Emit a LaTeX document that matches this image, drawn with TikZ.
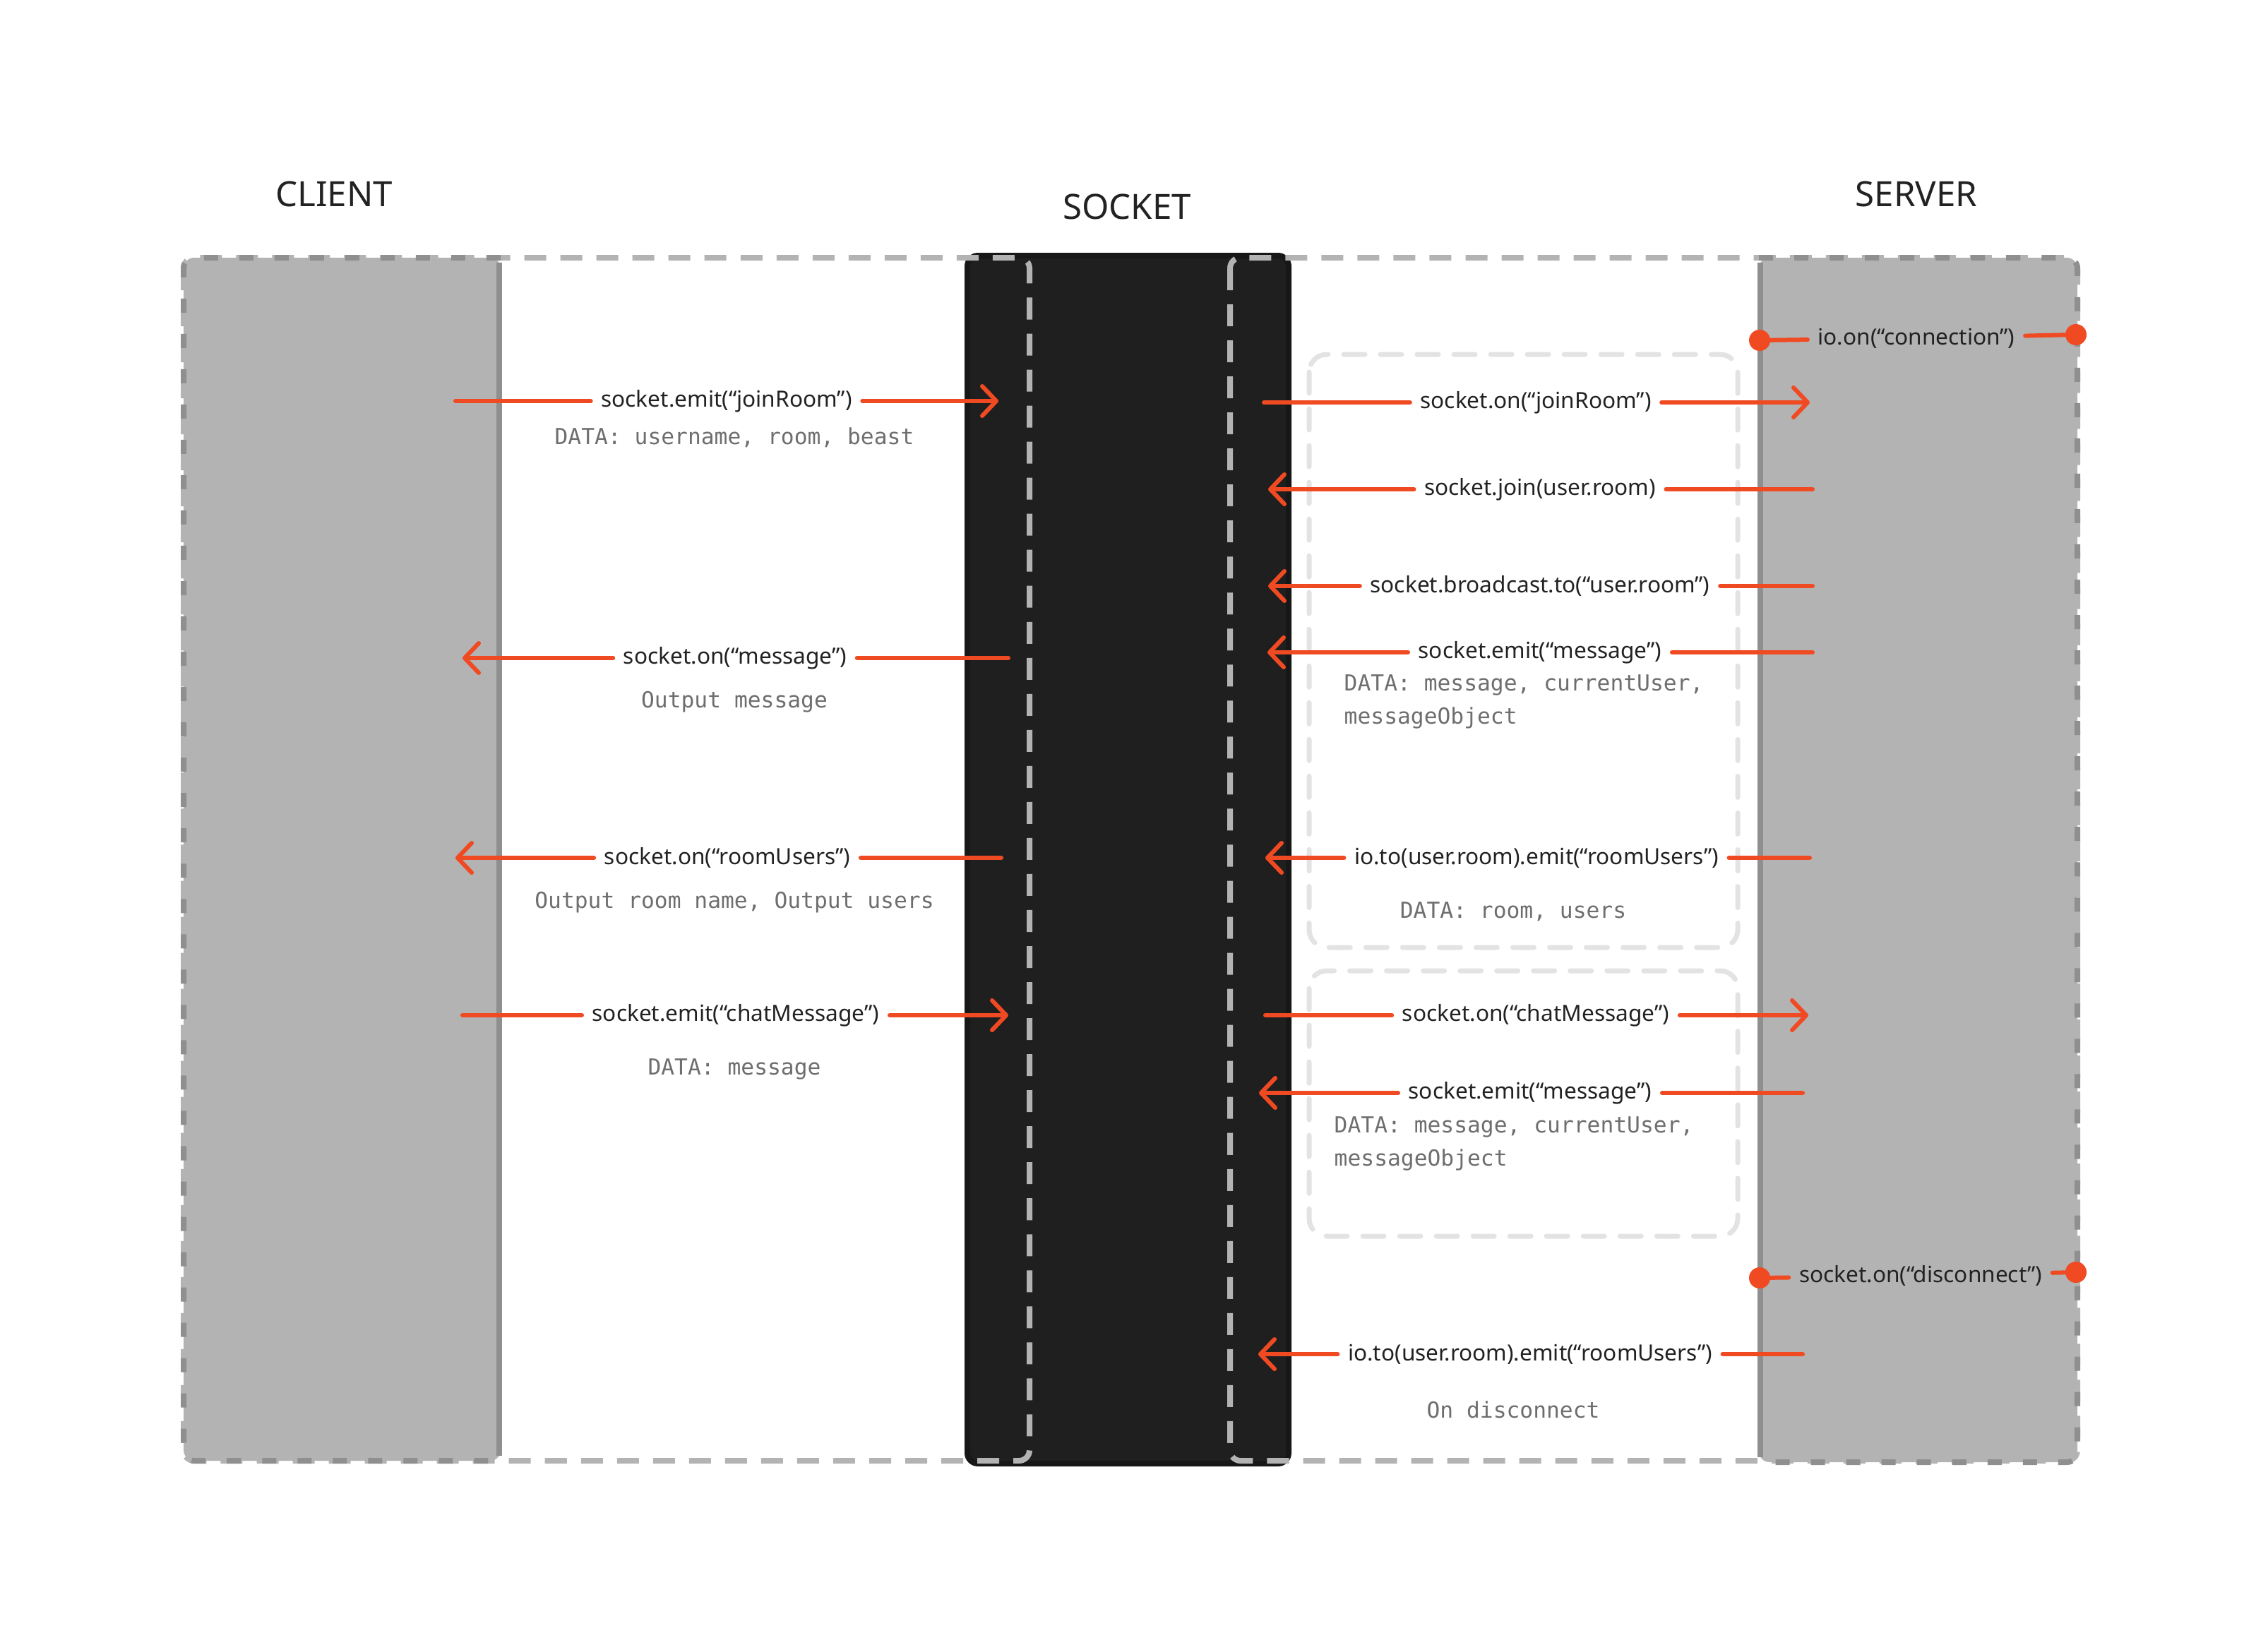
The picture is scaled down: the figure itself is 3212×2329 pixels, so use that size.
\documentclass[tikz,border=0pt]{standalone}
\usepackage{fontspec}
\setmainfont{Noto Sans}
\setmonofont{DejaVu Sans Mono}
\usetikzlibrary{arrows.meta}
\definecolor{arrowred}{HTML}{F04A23}
\definecolor{boxgray}{HTML}{B3B3B3}
\definecolor{edgegray}{HTML}{8F8F8F}
\definecolor{sockblack}{HTML}{1F1F1F}
\definecolor{sockedge}{HTML}{171717}
\definecolor{groupgray}{HTML}{E3E3E3}
\definecolor{datagray}{HTML}{6E6E6E}
\definecolor{inkblack}{HTML}{222222}
\begin{document}
\begin{tikzpicture}[x=0.01cm, y=-0.01cm,
  lbl/.style={font=\fontsize{9}{11}\selectfont, text=inkblack, inner xsep=0.14cm, inner ysep=0.05cm},
  data/.style={font=\fontsize{8.9}{13.4}\selectfont\ttfamily, text=datagray, inner sep=0},
  title/.style={font=\fontsize{14}{16}\selectfont, text=inkblack},
  msg/.style={draw=arrowred, line width=0.06cm, line cap=round, >={Straight Barb[length=0.2cm,width=0.42cm,round]}},
  dot/.style={circle, fill=arrowred, minimum size=0.3cm, inner sep=0},
  frame/.style={draw=boxgray, line width=0.08cm, dash pattern=on 0.31cm off 0.2cm, rounded corners=0.15cm},
  lane/.style={fill=boxgray, rounded corners=0.15cm},
  laneedge/.style={draw=edgegray, line width=0.08cm, dash pattern=on 0.2cm off 0.3cm, rounded corners=0.15cm},
  group/.style={draw=groupgray, line width=0.07cm, line cap=round, dash pattern=on 0.3cm off 0.22cm, rounded corners=0.25cm}]
\useasboundingbox (0,0) rectangle (3212,2329);

% lanes
\draw[fill=sockblack, draw=sockedge, line width=0.08cm, rounded corners=0.15cm] (1370,362) rectangle (1825,2073);
\draw[frame] (260,365) rectangle (1458,2069);
\draw[frame] (1742,365) rectangle (2942,2069);
\fill[lane] (260,365) rectangle (709,2069);
\draw[laneedge] (709,365) -- (260,365) -- (260,2069) -- (709,2069);
\draw[edgegray, line width=0.08cm] (707,372) -- (707,2062);
\fill[lane] (2491,365) rectangle (2942,2071);
\draw[laneedge] (2491,365) -- (2942,365) -- (2942,2071) -- (2491,2071);
\draw[edgegray, line width=0.08cm] (2493,372) -- (2493,2064);
\draw[group] (1854,502) rectangle (2461,1342);
\draw[group] (1854,1375) rectangle (2461,1751);

\node[title] (client) at (473,275) {CLIENT};
\node[title] (socket) at (1596,293) {SOCKET};
\node[title] (server) at (2714,275) {SERVER};

% client side
\coordinate (j1s) at (645,568);
\node[lbl] (j1) at (1029,568) {socket.emit(“joinRoom”)};
\coordinate (j1e) at (1414,568);
\node[data] (j1d) at (1040,620) {DATA: username, room, beast};
\coordinate (m1s) at (1428,932);
\node[lbl] (m1) at (1041,932) {socket.on(“message”)};
\coordinate (m1e) at (655,932);
\node[data] (m1d) at (1040,994) {Output message};
\coordinate (r1s) at (1418,1215);
\node[lbl] (r1) at (1030,1215) {socket.on(“roomUsers”)};
\coordinate (r1e) at (645,1215);
\node[data] (r1d) at (1040,1278) {Output room name, Output users};
\coordinate (c1s) at (655,1438);
\node[lbl] (c1) at (1042,1438) {socket.emit(“chatMessage”)};
\coordinate (c1e) at (1428,1438);
\node[data] (c1d) at (1040,1514) {DATA: message};

% server side
\node[dot] (cd1) at (2492,482) {};
\node[lbl] (con) at (2714,479) {io.on(“connection”)};
\node[dot] (cd2) at (2940,474) {};
\coordinate (j2s) at (1790,570);
\node[lbl] (j2) at (2175,570) {socket.on(“joinRoom”)};
\coordinate (j2e) at (2563,570);
\coordinate (jns) at (2567,693);
\node[lbl] (jn) at (2181,693) {socket.join(user.room)};
\coordinate (jne) at (1796,693);
\coordinate (bcs) at (2567,830);
\node[lbl] (bc) at (2181,830) {socket.broadcast.to(“user.room”)};
\coordinate (bce) at (1796,830);
\coordinate (m2s) at (2567,924);
\node[lbl] (m2) at (2181,924) {socket.emit(“message”)};
\coordinate (m2e) at (1795,924);
\node[data, anchor=west, align=left] (m2d) at (1903,994) {DATA: message, currentUser,\\messageObject};
\coordinate (r2s) at (2563,1215);
\node[lbl] (r2) at (2176,1215) {io.to(user.room).emit(“roomUsers”)};
\coordinate (r2e) at (1792,1215);
\node[data] (r2d) at (2143,1291) {DATA: room, users};
\coordinate (c2s) at (1792,1438);
\node[lbl] (c2) at (2175,1438) {socket.on(“chatMessage”)};
\coordinate (c2e) at (2561,1438);
\coordinate (m3s) at (2553,1548);
\node[lbl] (m3) at (2167,1548) {socket.emit(“message”)};
\coordinate (m3e) at (1783,1548);
\node[data, anchor=west, align=left] (m3d) at (1889,1620) {DATA: message, currentUser,\\messageObject};
\node[dot] (dd1) at (2492,1810) {};
\node[lbl] (dis) at (2720,1807) {socket.on(“disconnect”)};
\node[dot] (dd2) at (2940,1802) {};
\coordinate (r3s) at (2553,1918);
\node[lbl] (r3) at (2167,1918) {io.to(user.room).emit(“roomUsers”)};
\coordinate (r3e) at (1782,1918);
\node[data] (r3d) at (2143,1997) {On disconnect};

\draw[msg] (j1s)--(j1);
\draw[msg,->] (j1)--(j1e);
\draw[msg] (m1s)--(m1);
\draw[msg,->] (m1)--(m1e);
\draw[msg] (r1s)--(r1);
\draw[msg,->] (r1)--(r1e);
\draw[msg] (c1s)--(c1);
\draw[msg,->] (c1)--(c1e);

\draw[msg] (cd1)--(con);
\draw[msg] (con)--(cd2);
\draw[msg] (j2s)--(j2);
\draw[msg,->] (j2)--(j2e);
\draw[msg] (jns)--(jn);
\draw[msg,->] (jn)--(jne);
\draw[msg] (bcs)--(bc);
\draw[msg,->] (bc)--(bce);
\draw[msg] (m2s)--(m2);
\draw[msg,->] (m2)--(m2e);
\draw[msg] (r2s)--(r2);
\draw[msg,->] (r2)--(r2e);
\draw[msg] (c2s)--(c2);
\draw[msg,->] (c2)--(c2e);
\draw[msg] (m3s)--(m3);
\draw[msg,->] (m3)--(m3e);
\draw[msg] (dd1)--(dis);
\draw[msg] (dis)--(dd2);
\draw[msg] (r3s)--(r3);
\draw[msg,->] (r3)--(r3e);
\end{tikzpicture}
\end{document}
